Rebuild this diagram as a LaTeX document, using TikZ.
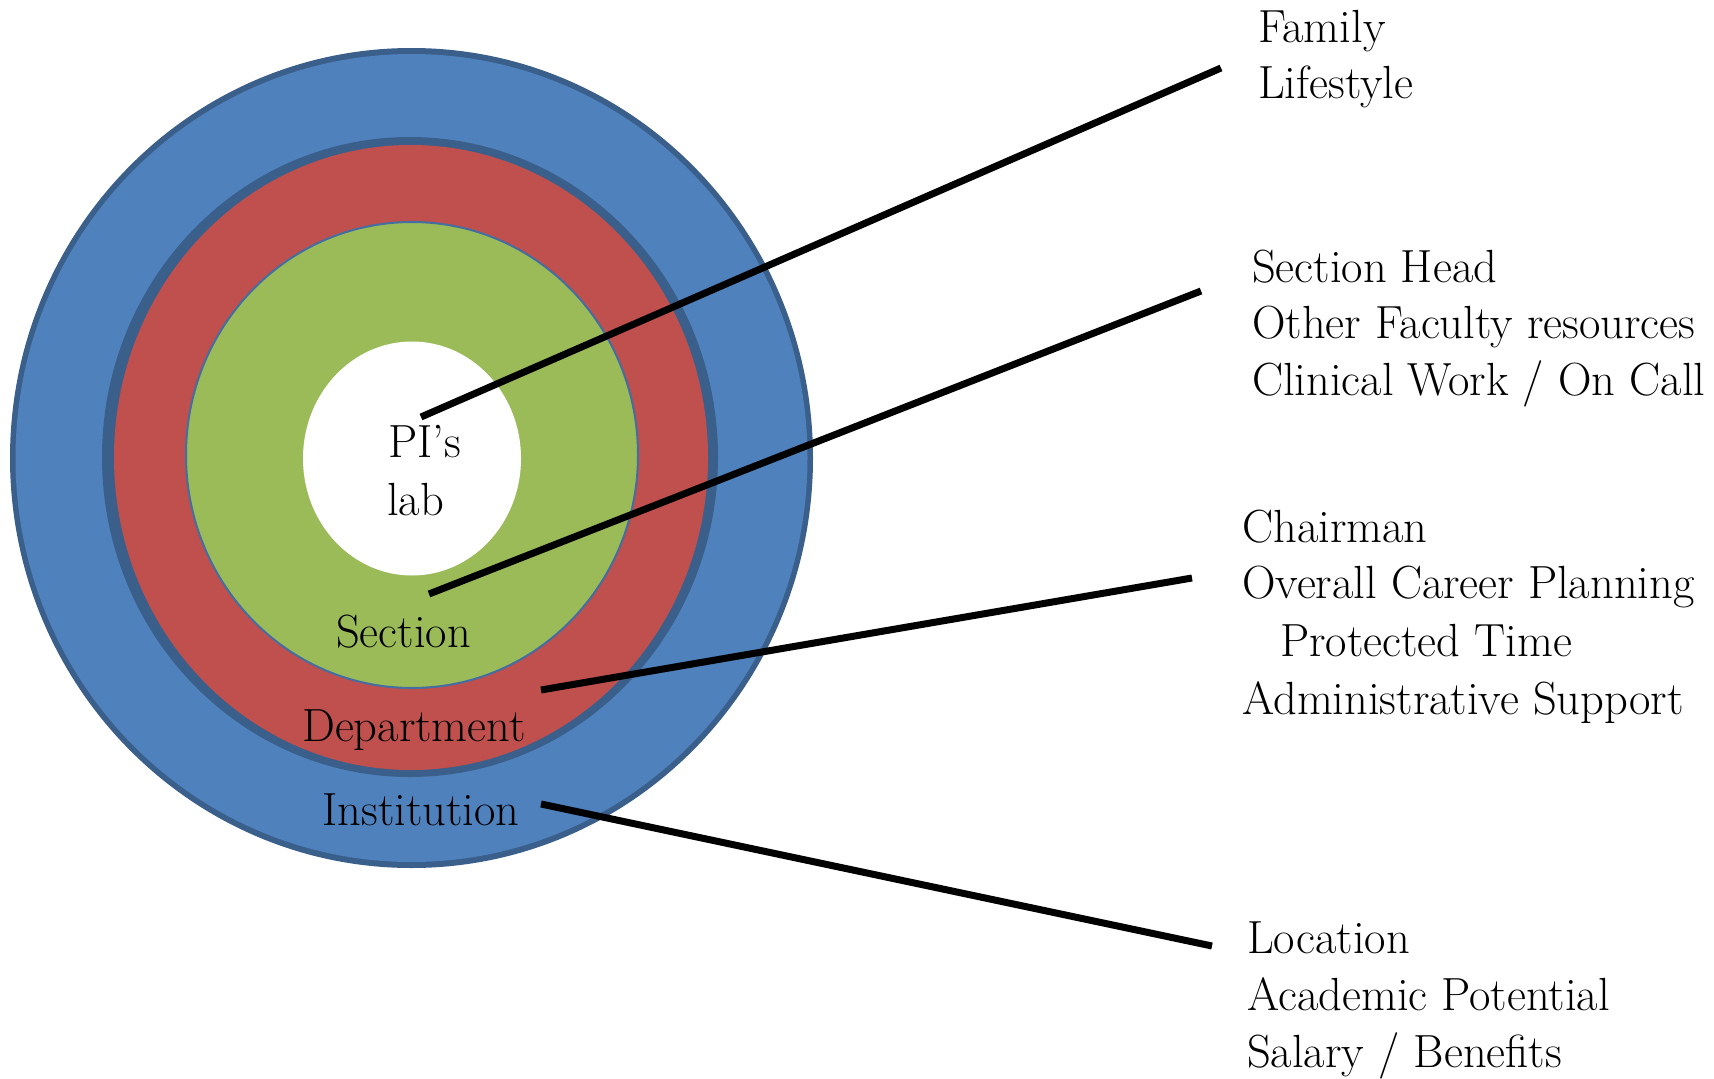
\documentclass[tikz,border=0pt]{standalone}
\definecolor{blueF}{HTML}{4F81BD}
\definecolor{blueB}{HTML}{3A5F8B}
\definecolor{redF}{HTML}{C0504D}
\definecolor{greenF}{HTML}{9BBB59}
\begin{document}
\begin{tikzpicture}[x=1pt,y=-1pt,
  lbl/.style={font=\fontsize{46.5}{52}\selectfont, inner sep=0pt, anchor=base west},
  ring/.style={font=\fontsize{46.5}{52}\selectfont, inner sep=0pt, anchor=base},
  conn/.style={line width=7pt, draw=black}]
\useasboundingbox (0,0) rectangle (1714,1079);
\fill[white] (0,0) rectangle (1714,1079);
% rings
\fill[blueB] (411.5,458) ellipse [x radius=401.5pt, y radius=410pt];
\fill[blueF] (411.5,458) ellipse [x radius=396pt, y radius=404pt];
\fill[blueB] (410,457) ellipse [x radius=308pt, y radius=320pt];
\fill[redF] (411,457.5) ellipse [x radius=297pt, y radius=312.5pt];
\filldraw[fill=greenF, draw=blueF!85!black, line width=2pt] (412,455) ellipse [x radius=226pt, y radius=233pt];
\fill[white] (412,458.5) ellipse [x radius=109pt, y radius=117pt];
% ring labels
\node[lbl] (pis) at (388,457) {PI’s};
\node[lbl] (lab) at (387,515) {lab};
\node[ring] (section) at (403.5,647) {Section};
\node[ring] (department) at (414,741) {Department};
\node[ring] (institution) at (421,825) {Institution};
% right texts
\node[lbl] (family) at (1258,42) {Family};
\node[lbl] (lifestyle) at (1258,98) {Lifestyle};
\node[lbl] (sechead) at (1252,282) {Section Head};
\node[lbl] (faculty) at (1252,338.5) {Other Faculty resources};
\node[lbl] (clinical) at (1252,395) {Clinical Work / On Call};
\node[lbl] (chairman) at (1242,542) {Chairman};
\node[lbl] (career) at (1242,598.5) {Overall Career Planning};
\node[lbl] (protected) at (1280,656.5) {Protected Time};
\node[lbl] (admin) at (1242,714) {Administrative Support};
\node[lbl] (location) at (1247,953) {Location};
\node[lbl] (academic) at (1247,1010) {Academic Potential};
\node[lbl] (salary) at (1247,1067) {Salary / Benefits};
% connectors
\coordinate (l1a) at (421,417);
\coordinate (l1b) at (1221,68);
\coordinate (l2a) at (429,594);
\coordinate (l2b) at (1201,291);
\coordinate (l3a) at (541,690);
\coordinate (l3b) at (1192,578);
\coordinate (l4a) at (541,804);
\coordinate (l4b) at (1212,946);
\draw[conn] (l1a) -- (l1b);
\draw[conn] (l2a) -- (l2b);
\draw[conn] (l3a) -- (l3b);
\draw[conn] (l4a) -- (l4b);
\end{tikzpicture}
\end{document}
